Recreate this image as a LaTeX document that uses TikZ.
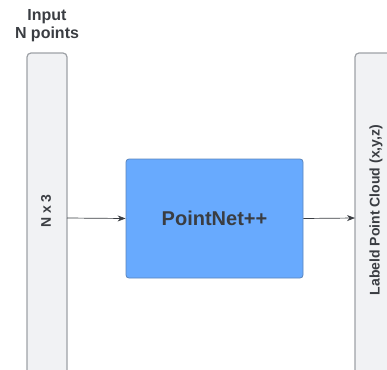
\documentclass[tikz,border=0pt]{standalone}
\usepackage{fontspec}
\setmainfont{Liberation Sans}
\usetikzlibrary{arrows.meta}
\definecolor{barfill}{HTML}{F1F2F4}
\definecolor{barline}{HTML}{9EA1A6}
\definecolor{netfill}{HTML}{68AAFE}
\definecolor{netline}{HTML}{5A84BC}
\definecolor{ink}{HTML}{3A3D42}
\tikzset{
  bar/.style={draw=barline, line width=1.2pt, fill=barfill, rounded corners=4pt},
  lbl/.style={text=ink, font=\bfseries\fontsize{14}{16}\selectfont},
  link/.style={draw=ink, line width=0.7pt, -{Stealth[length=8pt,width=6pt]}}
}
\begin{document}
\begin{tikzpicture}[x=1pt,y=-1pt]
  \useasboundingbox (0,0) rectangle (387,369);
  \begin{scope}
    \clip (0,0) rectangle (387,369);
    % input column and output column, both running off the page
    \draw[bar] (27,53) rectangle (67,385);
    \draw[bar] (355,53) rectangle (400,385);
  \end{scope}
  \coordinate (inR) at (67,218);
  \coordinate (outL) at (355,218);
  \node[lbl, rotate=90] (nx3) at (46,211) {N x 3};
  \node[lbl, rotate=90] (lpc) at (376,210) {Labeld Point Cloud (x,y,z)};
  \node[text=ink, font=\bfseries\fontsize{16}{18}\selectfont, align=center] (inp) at (47,26) {Input\\N points};
  \node[draw=netline, line width=0.8pt, fill=netfill, rounded corners=3pt,
        minimum width=177pt, minimum height=119pt, text=ink,
        font=\bfseries\fontsize{20}{24}\selectfont] (net) at (214.5,218.5) {PointNet++};
  \draw[link] (inR) -- (net.west);
  \draw[link] (net.east) -- (outL);
\end{tikzpicture}
\end{document}
